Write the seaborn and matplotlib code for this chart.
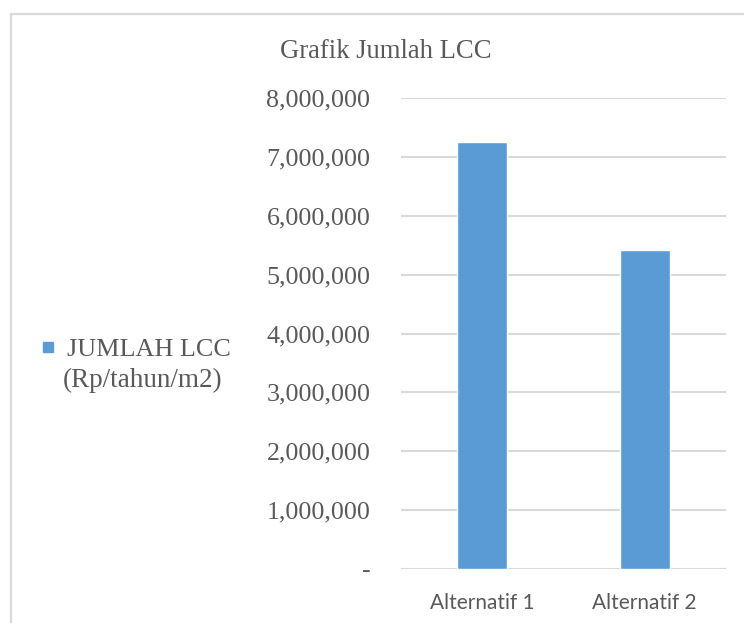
import matplotlib
matplotlib.use("Agg")
import matplotlib.pyplot as plt
from matplotlib.ticker import FuncFormatter
from matplotlib.patches import Rectangle
from matplotlib.lines import Line2D
import pandas as pd
import seaborn as sns

# data
alternatif = ["Alternatif 1", "Alternatif 2"]
jumlah_lcc = [7260000, 5420000]
y_ticks = [0, 1000000, 2000000, 3000000, 4000000, 5000000, 6000000, 7000000, 8000000]
judul = "Grafik Jumlah LCC"
label_seri = ["JUMLAH LCC", "(Rp/tahun/m2)"]

sns.set_theme(style="white")
plt.rcParams["font.family"] = ["Liberation Serif", "DejaVu Serif"]

df = pd.DataFrame({"alternatif": alternatif, "lcc": jumlah_lcc})

W, H = 744, 623
fig = plt.figure(figsize=(W / 100, H / 100), dpi=100)

# frame around chart area (light gray)
fig.patches.append(Rectangle((10.5 / W, -0.5), 2, 1.5 - 13.5 / H,
                             transform=fig.transFigure, fill=False,
                             edgecolor="#d9d9d9", lw=1.6))

ax = fig.add_axes([401 / W, 1 - 569 / H, 325 / W, 471 / H])
sns.barplot(data=df, x="alternatif", y="lcc", color="#5b9bd5", saturation=1,
            width=0.31, ax=ax)

ax.set_ylim(0, 8000000)
ax.set_yticks(y_ticks)
ax.yaxis.set_major_formatter(FuncFormatter(lambda v, p: "-" if v == 0 else f"{v:,.0f}"))
ax.grid(axis="y", color="#d9d9d9", lw=1.5)
ax.grid(axis="x", visible=False)
ax.set_axisbelow(True)
sns.despine(ax=ax, left=True, bottom=True, top=True, right=True)
ax.set_xlabel("")
ax.set_ylabel("")

ax.tick_params(axis="y", length=0, pad=22, labelsize=18.7, labelcolor="#595959")
ax.tick_params(axis="x", length=0, pad=17, labelsize=15, labelcolor="#595959")
for t in ax.get_xticklabels():
    t.set_fontfamily("Lato")

fig.text(386 / W, 1 - 52 / H, judul, ha="center", va="center",
         fontsize=19.2, color="#595959")

handle = Line2D([], [], marker="s", ls="", color="#5b9bd5", markersize=7.5)
fig.legend(handles=[handle], labels=[label_seri[0]], loc="center left",
           bbox_to_anchor=(40 / W, 1 - 349 / H), frameon=False,
           fontsize=18.8, labelcolor="#595959", handlelength=0.6,
           handletextpad=0.45, borderpad=0, borderaxespad=0)
fig.text(63 / W, 1 - 380 / H, label_seri[1], ha="left", va="center",
         fontsize=19.5, color="#595959")

fig.savefig("out.png", dpi=100)
